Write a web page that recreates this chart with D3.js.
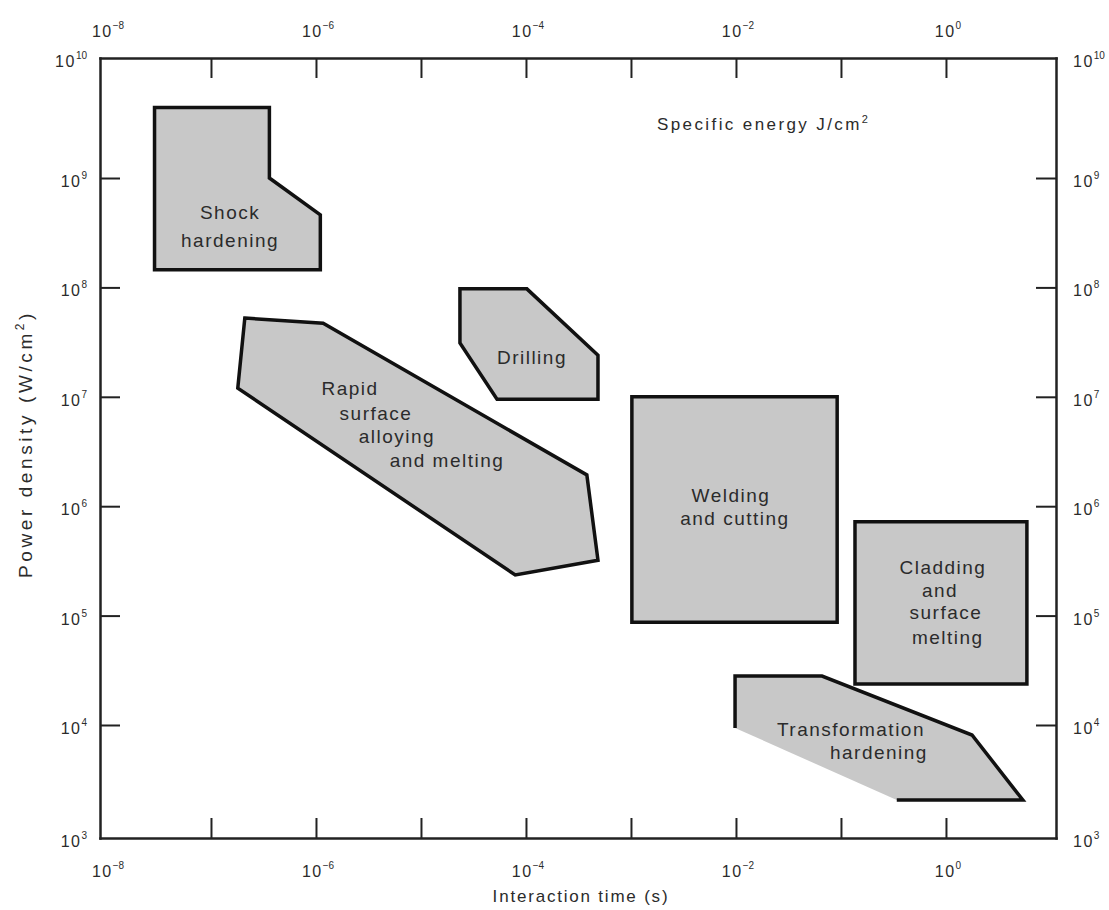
<!DOCTYPE html>
<html>
<head>
<meta charset="utf-8">
<script src="https://d3js.org/d3.v7.min.js"></script>
<style>
body {margin:0; background:#fff;}
text {font-family: "Liberation Sans", Arial, sans-serif; fill:#2b2b2b;}
.axis path {stroke:#222; stroke-width:2.5; stroke-linecap:square;}
.axis line {stroke:#222; stroke-width:2;}
.region {fill:#c8c8c8; stroke:none;}
.edge {fill:none; stroke:#111; stroke-width:3.5; stroke-linejoin:miter;}
.lbl {font-size:19px; letter-spacing:1.5px;}
</style>
</head>
<body>
<svg width="1109" height="910"></svg>
<script>
// outlines: [interaction time (s), power density (W/cm2)]
const shockHardening = [[2.9e-8,4.4e9],[3.6e-7,4.4e9],[3.6e-7,1e9],[1.1e-6,4.6e8],[1.1e-6,1.45e8],[2.9e-8,1.45e8]];
const drilling = [[2.35e-5,9.7e7],[1.02e-4,9.7e7],[4.85e-4,2.4e7],[4.85e-4,9.5e6],[5.3e-5,9.5e6],[2.35e-5,3.1e7]];
const rapidAlloying = [[2.1e-7,5.25e7],[1.17e-6,4.7e7],[3.8e-4,1.93e6],[4.85e-4,3.2e5],[7.9e-5,2.35e5],[1.8e-7,1.2e7]];
const welding = [[1.02e-3,1e7],[9.2e-2,1e7],[9.2e-2,8.7e4],[1.02e-3,8.7e4]];
const cladding = [[0.136,7.2e5],[5.9,7.2e5],[5.9,2.37e4],[0.136,2.37e4]];
// last edge (back to the first point) has no outline in the original
const transformation = [[9.8e-3,9.4e3],[9.8e-3,2.8e4],[6.6e-2,2.8e4],[1.77,8.1e3],[5.4,2.06e3],[0.34,2.06e3]];

// label lines, each with its own anchor [time, power]
const shockLabel = [["Shock",1.52e-7,4.79e8],["hardening",1.52e-7,2.66e8]];
const drillingLabel = [["Drilling",1.14e-4,2.31e7]];
const rapidLabel = [["Rapid",2.11e-6,1.2e7],["surface",3.73e-6,7.11e6],["alloying",5.9e-6,4.3e6],["and melting",1.77e-5,2.64e6]];
const weldingLabel = [["Welding",8.96e-3,1.26e6],["and cutting",9.77e-3,7.8e5]];
const claddingLabel = [["Cladding",0.936,2.78e5],["and",0.877,1.71e5],["surface",1.0,1.06e5],["melting",1.04,6.37e4]];
const transformationLabel = [["Transformation",0.1245,9.0e3],["hardening",0.23,5.55e3]];

const xTicks = [1e-7,1e-6,1e-5,1e-4,1e-3,1e-2,1e-1,1e0];
const xLabelValues = [1e-8,1e-6,1e-4,1e-2,1e0];
const xLabelExps = ["\u22128","\u22126","\u22124","\u22122","0"];
const yTicks = [1e4,1e5,1e6,1e7,1e8,1e9];
const yLabelValues = [1e3,1e4,1e5,1e6,1e7,1e8,1e9,1e10];
const yLabelExps = ["3","4","5","6","7","8","9","10"];

const svg = d3.select("svg");
const m = {left: 100, right: 1056, top: 58, bottom: 838};

const x = d3.scaleLog().domain([Math.pow(10,-8.057), Math.pow(10,1.048)]).range([m.left, m.right]);
const y = d3.scaleLog().domain([Math.pow(10,2.967), Math.pow(10,10.097)]).range([m.bottom, m.top]);

const line = d3.line().x(d => x(d[0])).y(d => y(d[1]));

const regions = [
  {pts: shockHardening, closed: true, label: shockLabel},
  {pts: drilling, closed: true, label: drillingLabel},
  {pts: rapidAlloying, closed: true, label: rapidLabel},
  {pts: welding, closed: true, label: weldingLabel},
  {pts: cladding, closed: true, label: claddingLabel},
  {pts: transformation, closed: false, label: transformationLabel}
];

const plot = svg.append("g");
regions.forEach(r => {
  plot.append("path").attr("class","region").attr("d", line(r.pts) + "Z");
  plot.append("path").attr("class","edge").attr("d", line(r.pts) + (r.closed ? "Z" : ""));
  plot.selectAll(null).data(r.label).enter().append("text")
    .attr("class","lbl")
    .attr("x", d => x(d[1]))
    .attr("y", d => y(d[2]))
    .attr("text-anchor","middle")
    .attr("dominant-baseline","central")
    .text(d => d[0]);
});

// frame + inward ticks
svg.append("g").attr("class","axis").attr("transform","translate(0,"+m.bottom+")")
  .call(d3.axisBottom(x).tickValues(xTicks).tickSizeInner(-20).tickSizeOuter(0).tickFormat(""));
svg.append("g").attr("class","axis").attr("transform","translate(0,"+m.top+")")
  .call(d3.axisTop(x).tickValues(xTicks).tickSizeInner(-20).tickSizeOuter(0).tickFormat(""));
svg.append("g").attr("class","axis").attr("transform","translate("+m.left+",0)")
  .call(d3.axisLeft(y).tickValues(yTicks).tickSizeInner(-20).tickSizeOuter(0).tickFormat(""));
svg.append("g").attr("class","axis").attr("transform","translate("+m.right+",0)")
  .call(d3.axisRight(y).tickValues(yTicks).tickSizeInner(-20).tickSizeOuter(0).tickFormat(""));

function powLabel(px, py, exp, anchor) {
  const t = svg.append("text").attr("x", px).attr("y", py).attr("text-anchor", anchor)
    .style("font-size","16px").style("letter-spacing","1.5px");
  t.append("tspan").text("10");
  t.append("tspan").attr("dy", -8).style("font-size","10px").style("letter-spacing","0px").text(exp);
}

xLabelValues.forEach((v, i) => {
  powLabel(x(v) + 2, m.bottom + 39, xLabelExps[i], "middle");
  powLabel(x(v) + 2, m.top - 21, xLabelExps[i], "middle");
});
yLabelValues.forEach((v, i) => {
  let py = y(v);
  if (i === 0) py = y.range()[0];
  if (i === yLabelValues.length - 1) py = y.range()[1];
  powLabel(m.left - 13, py + 9, yLabelExps[i], "end");
  powLabel(m.right + 17, py + 9, yLabelExps[i], "start");
});

// axis titles
svg.append("text").attr("x", (m.left + m.right) / 2 + 3).attr("y", 902).attr("text-anchor","middle")
  .style("font-size","17px").style("letter-spacing","1.8px").text("Interaction time (s)");

const yt = svg.append("text").attr("transform","translate(32,444) rotate(-90)")
  .attr("text-anchor","middle").style("font-size","19px").style("letter-spacing","3.6px");
yt.append("tspan").text("Power density (W/cm");
yt.append("tspan").attr("dy", -8).style("font-size","12px").text("2");
yt.append("tspan").attr("dy", 8).text(")");

const st = svg.append("text").attr("x", 657).attr("y", 130)
  .style("font-size","17px").style("letter-spacing","2.4px");
st.append("tspan").text("Specific energy J/cm");
st.append("tspan").attr("dy", -7).style("font-size","11px").text("2");
</script>
</body>
</html>
